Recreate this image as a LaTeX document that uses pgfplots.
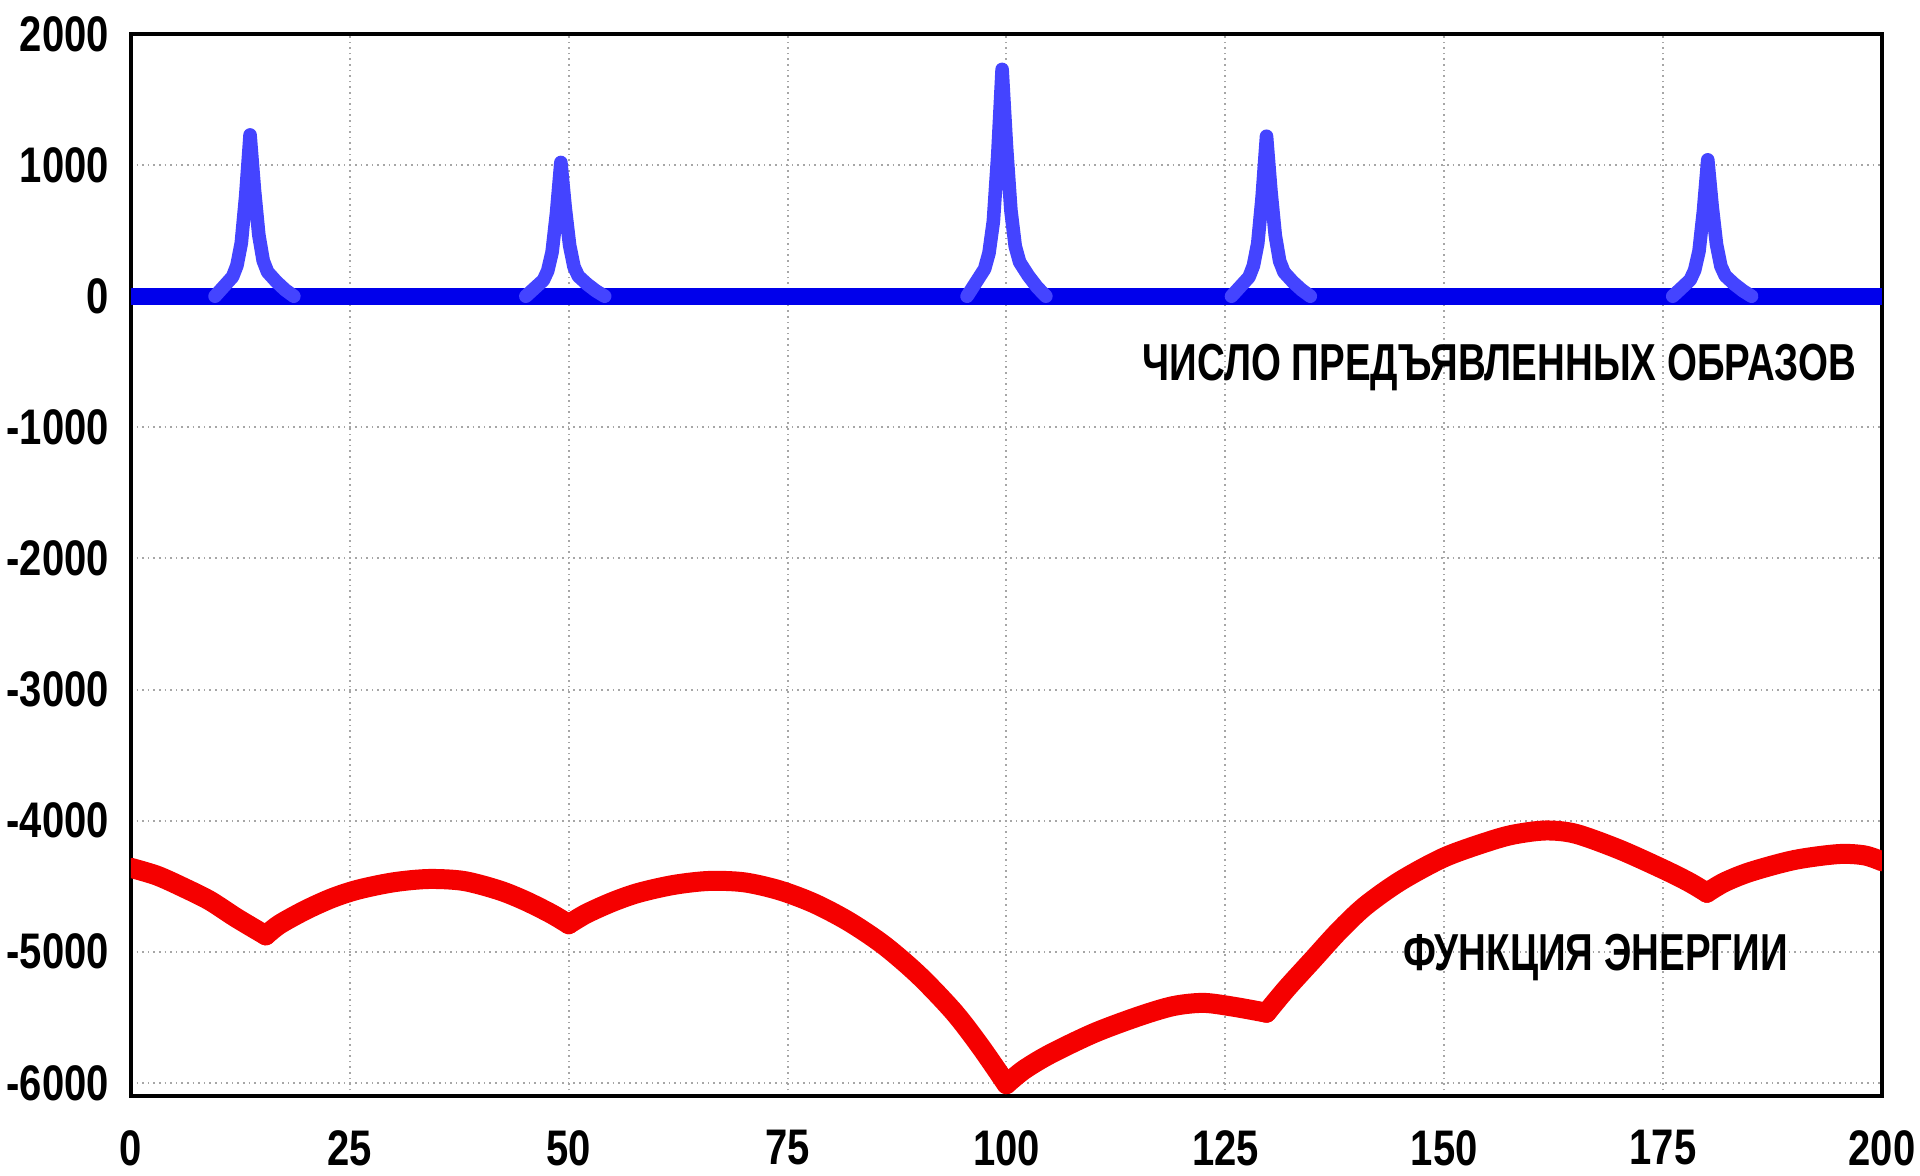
\documentclass[border=0pt]{standalone}
\usepackage{fontspec}
\setmainfont{Liberation Sans}[FakeStretch=0.8]
\newfontfamily\lblfont{Liberation Sans}[FakeStretch=0.74]
\usepackage{pgfplots}
\pgfplotsset{compat=1.18}
\definecolor{dblue}{RGB}{0,0,235}
\definecolor{lblue}{RGB}{68,68,255}
\definecolor{ered}{RGB}{245,0,0}
\begin{document}
\begin{tikzpicture}
\path[use as bounding box] (0,0) rectangle (480pt,294pt);
\begin{axis}[
  at={(32.75pt,20pt)}, anchor=south west,
  width=437.75pt, height=265.5pt, scale only axis,
  xmin=0, xmax=200, ymin=-6100, ymax=2000,
  xtick={0,25,50,75,100,125,150,175,200},
  xticklabels={0,25,50,75,100,125,150,175,200},
  ytick={-6000,-5000,-4000,-3000,-2000,-1000,0,1000,2000},
  yticklabels={-6000,-5000,-4000,-3000,-2000,-1000,0,1000,2000},
  major tick length=0pt,
  grid=major,
  grid style={densely dotted, black!35, line width=0.5pt},
  axis line style={black, line width=0.8pt},
  tick label style={font=\bfseries\fontsize{12.5}{12.5}\selectfont},
  xticklabel style={yshift=-5pt},
  yticklabel style={xshift=-2pt},
]
% blue baseline
\addplot[dblue, line width=4.2pt] coordinates {(0,0) (200,0)};
% blue peaks
\addplot[lblue, line width=3.4pt, line join=round, line cap=round] coordinates {
(9.6,0) (10.6,74) (11.6,148) (12.1,234) (12.6,406) (13.1,763) (13.6,1230) (14.1,812) (14.6,467) (15.1,271) (15.6,185) (16.6,111) (17.6,49) (18.6,0)};
\addplot[lblue, line width=3.4pt, line join=round, line cap=round] coordinates {
(45.1,0) (46.1,61) (47.1,122) (47.6,194) (48.1,337) (48.6,632) (49.1,1020) (49.6,673) (50.1,388) (50.6,224) (51.1,153) (52.1,92) (53.1,41) (54.1,0)};
\addplot[lblue, line width=3.4pt, line join=round, line cap=round] coordinates {
(95.5,0) (96.5,104) (97.5,208) (98,329) (98.5,571) (99,1073) (99.5,1730) (100,1142) (100.5,657) (101,381) (101.5,260) (102.5,156) (103.5,69) (104.5,0)};
\addplot[lblue, line width=3.4pt, line join=round, line cap=round] coordinates {
(125.7,0) (126.7,73) (127.7,146) (128.2,232) (128.7,403) (129.2,756) (129.7,1220) (130.2,805) (130.7,464) (131.2,268) (131.7,183) (132.7,110) (133.7,49) (134.7,0)};
\addplot[lblue, line width=3.4pt, line join=round, line cap=round] coordinates {
(176.1,0) (177.1,62) (178.1,125) (178.6,198) (179.1,343) (179.6,645) (180.1,1040) (180.6,686) (181.1,395) (181.6,229) (182.1,156) (183.1,94) (184.1,42) (185.1,0)};
% energy, one smooth arc between each pair of cusps
\pgfplotsset{every axis plot/.append style={}}
\addplot[ered, line width=5pt, smooth, tension=0.5, line cap=round] coordinates {
(0,-4360) (3,-4420) (6,-4510) (9,-4610) (12,-4740) (15.4,-4875)};
\addplot[ered, line width=5pt, smooth, tension=0.5, line cap=round] coordinates {
(15.4,-4875) (17,-4790) (20,-4680) (23,-4590) (26,-4525) (30,-4470) (34,-4445) (38,-4460) (42,-4530) (45,-4610) (48,-4710) (50,-4790)};
\addplot[ered, line width=5pt, smooth, tension=0.5, line cap=round] coordinates {
(50,-4790) (52,-4710) (55,-4620) (58,-4550) (62,-4490) (66,-4460) (70,-4470) (74,-4530) (78,-4630) (82,-4770) (86,-4950) (90,-5180) (94,-5460) (97,-5720) (100,-6010)};
\addplot[ered, line width=5pt, smooth, tension=0.5, line cap=round] coordinates {
(100,-6010) (102,-5900) (105,-5780) (110,-5620) (115,-5495) (119,-5415) (122.5,-5390) (126,-5420) (129.7,-5465)};
\addplot[ered, line width=5pt, smooth, tension=0.5, line cap=round] coordinates {
(129.7,-5465) (132,-5280) (135,-5060) (138,-4840) (141,-4650) (145,-4460) (150,-4280) (155,-4160) (158,-4105) (161.6,-4075) (165,-4100) (170,-4220) (175,-4370) (178,-4470) (180,-4550)};
\addplot[ered, line width=5pt, smooth, tension=0.5, line cap=round] coordinates {
(180,-4550) (182,-4470) (185,-4390) (190,-4300) (195,-4255) (198,-4265) (200,-4310)};
\node[font=\lblfont\bfseries\fontsize{13}{13}\selectfont, inner sep=0pt] at (axis cs:156.3,-541) {ЧИСЛО ПРЕДЪЯВЛЕННЫХ ОБРАЗОВ};
\node[font=\lblfont\bfseries\fontsize{13}{13}\selectfont, inner sep=0pt] at (axis cs:167.3,-5045) {ФУНКЦИЯ ЭНЕРГИИ};
\end{axis}
\end{tikzpicture}
\end{document}
